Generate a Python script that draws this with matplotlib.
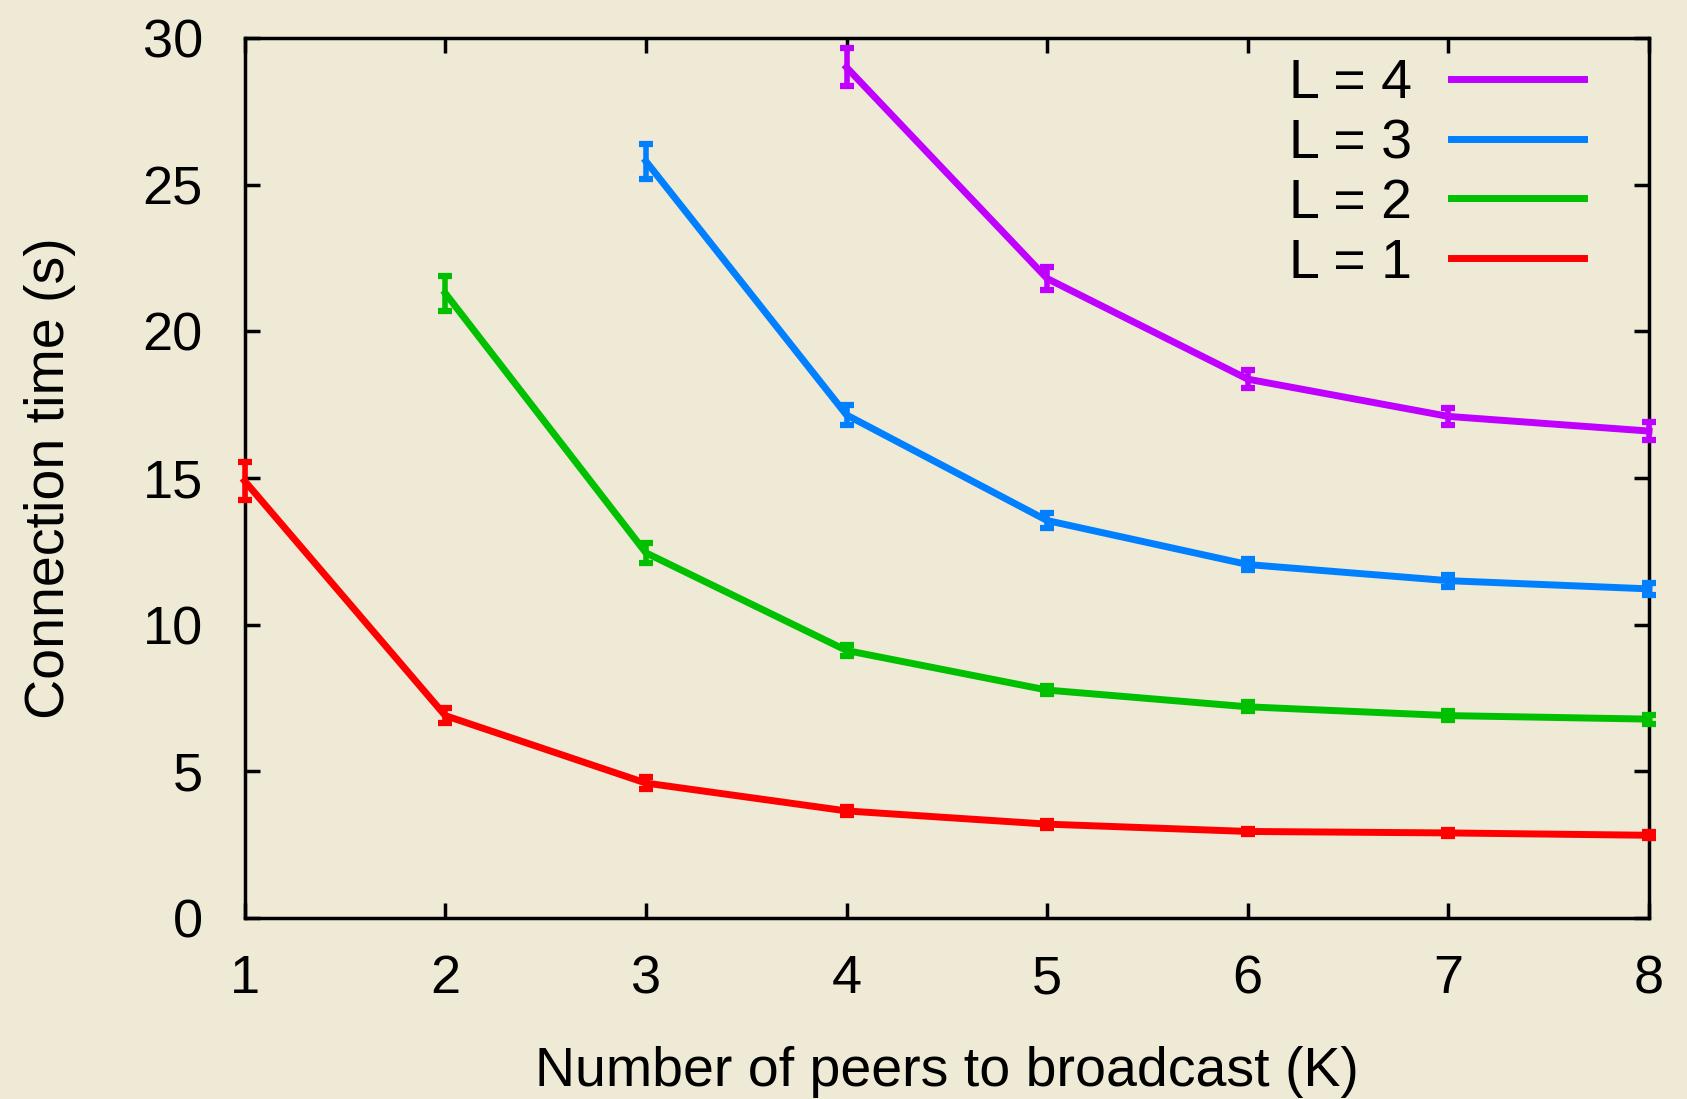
import numpy as np
import matplotlib.pyplot as plt

# peers to broadcast (K) and mean connection time per lookahead L
k_vals = [1, 2, 3, 4, 5, 6, 7, 8]

l1_k = [1, 2, 3, 4, 5, 6, 7, 8]
l1_t = [14.9, 6.9, 4.6, 3.65, 3.2, 2.95, 2.9, 2.82]
l1_err = [0.65, 0.25, 0.2, 0.15, 0.12, 0.1, 0.1, 0.1]

l2_k = [2, 3, 4, 5, 6, 7, 8]
l2_t = [21.3, 12.45, 9.12, 7.77, 7.2, 6.9, 6.78]
l2_err = [0.6, 0.35, 0.2, 0.15, 0.15, 0.15, 0.15]

l3_k = [3, 4, 5, 6, 7, 8]
l3_t = [25.8, 17.15, 13.55, 12.05, 11.5, 11.22]
l3_err = [0.6, 0.35, 0.25, 0.2, 0.2, 0.2]

l4_k = [4, 5, 6, 7, 8]
l4_t = [29.0, 21.8, 18.37, 17.1, 16.6]
l4_err = [0.65, 0.4, 0.3, 0.3, 0.3]

labels = ['L = 1', 'L = 2', 'L = 3', 'L = 4']
colors = ['#ff0000', '#00c000', '#0080ff', '#c000ff']

plt.rcParams['font.family'] = ['Liberation Sans', 'DejaVu Sans']

bg = '#efead6'
fig = plt.figure(figsize=(16.87, 10.99), dpi=100, facecolor=bg)
ax = fig.add_axes([0.145, 0.1647, 0.8325, 0.8007])
ax.set_facecolor(bg)

series = [(l1_k, l1_t, l1_err), (l2_k, l2_t, l2_err),
          (l3_k, l3_t, l3_err), (l4_k, l4_t, l4_err)]
handles = []
for (xs, ys, es), lab, c in zip(series, labels, colors):
    ax.errorbar(xs, ys, yerr=es, color=c, lw=5, elinewidth=4,
                capsize=5, capthick=4.5, clip_on=False, zorder=3)
    h, = ax.plot([], [], color=c, lw=5, label=lab)
    handles.append(h)

ax.set_xlim(1, 8)
ax.set_ylim(0, 30)
ax.set_xticks(k_vals)
ax.set_yticks(np.arange(0, 31, 5))
ax.tick_params(direction='in', length=11, width=2.5, top=True, right=True,
               labelsize=39)
ax.tick_params(axis='x', pad=26)
ax.tick_params(axis='y', pad=30)
for s in ax.spines.values():
    s.set_linewidth(2.5)

ax.set_xlabel('Number of peers to broadcast (K)', fontsize=40, labelpad=30)
ax.set_ylabel('Connection time (s)', fontsize=40, labelpad=48)

leg = ax.legend(handles[::-1], labels[::-1], loc='upper right', frameon=False,
                bbox_to_anchor=(0.9936, 1.04),
                markerfirst=False, fontsize=40, handlelength=2.4,
                labelspacing=0.14, borderaxespad=0.6, handletextpad=0.7)

fig.savefig('out.png', dpi=100, facecolor=bg)
